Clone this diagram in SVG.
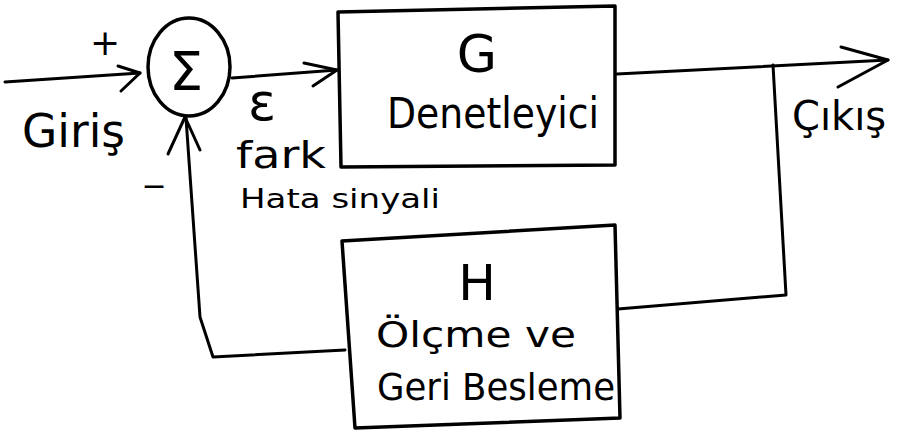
<svg xmlns="http://www.w3.org/2000/svg" width="898" height="432" viewBox="0 0 898 432">
<style>
.ln{fill:none;stroke:#000;stroke-width:3;stroke-linecap:round;stroke-linejoin:round}
.bx{fill:#fff;stroke:#000;stroke-width:3.5;stroke-linejoin:round}
.t{font-family:"DejaVu Sans","Liberation Sans",sans-serif;fill:#000}
</style>
<rect width="898" height="432" fill="#fff"/>
<g id="connectors">
  <path class="ln" d="M5,82 L140,73"/>
  <path class="ln" d="M118,66 L140,73 L121,91"/>
  <path class="ln" d="M232,78 L337,70"/>
  <path class="ln" d="M304,63 L337,70 L313,86"/>
  <path class="ln" d="M617,74 L888,60"/>
  <path class="ln" d="M841,47 L888,60 L838,87"/>
  <path class="ln" d="M773,65 L786,295 L618,309"/>
  <path class="ln" d="M345,350 L213,357 L200,317 L186,118"/>
  <path class="ln" d="M168,154 L185,117 L200,150"/>
</g>
<g id="sum">
  <ellipse cx="189" cy="67" rx="41" ry="49" fill="#fff" stroke="#000" stroke-width="3.5"/>
  <text class="t" x="186" y="90" font-size="54" text-anchor="middle">Σ</text>
</g>
<g id="G">
  <path class="bx" d="M338,12 L615,6 L615,165 L341,167 Z"/>
  <text class="t" x="477" y="72" font-size="52" text-anchor="middle">G</text>
  <text class="t" x="387" y="128" font-size="42" textLength="212" lengthAdjust="spacingAndGlyphs">Denetleyici</text>
</g>
<g id="H">
  <path class="bx" d="M342,241 L615,225 L620,418 L355,428 Z"/>
  <text class="t" x="477" y="300" font-size="50" text-anchor="middle">H</text>
  <text class="t" x="376" y="347" font-size="36" textLength="200" lengthAdjust="spacingAndGlyphs">Ölçme ve</text>
  <text class="t" x="377" y="400" font-size="38" textLength="238" lengthAdjust="spacingAndGlyphs">Geri Besleme</text>
</g>
<g id="labels">
  <text class="t" x="105" y="55" font-size="36" text-anchor="middle">+</text>
  <text class="t" x="22" y="147" font-size="46" textLength="103" lengthAdjust="spacingAndGlyphs">Giriş</text>
  <text class="t" x="154" y="196" font-size="30" text-anchor="middle">−</text>
  <text class="t" x="248" y="120" font-size="52">ε</text>
  <text class="t" x="236" y="168" font-size="38" textLength="90" lengthAdjust="spacingAndGlyphs">fark</text>
  <text class="t" x="240" y="208" font-size="26" textLength="200" lengthAdjust="spacingAndGlyphs">Hata sinyali</text>
  <text class="t" x="792" y="130" font-size="40">Çıkış</text>
</g>
</svg>
